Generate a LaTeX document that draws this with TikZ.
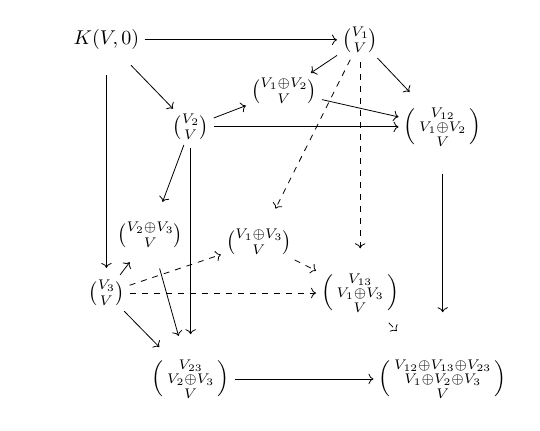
\documentclass[tikz,border=0pt]{standalone}
\usepackage{amsmath, amssymb}
\usepackage{tikz}
\usetikzlibrary{arrows.meta}

\begin{document}
\begin{tikzpicture}[
  obj/.style={inner sep=2.5pt},
  map/.style={-{To}, thin},
  dmap/.style={map, dashed}
]
  \useasboundingbox (0,0) rectangle (9.49,-7.57);

  % Outer cube
  \node[obj] (k)   at (1.87,-0.70) {$K(V,0)$};
  \node[obj] (v1)  at (6.33,-0.70) {$\binom{V_1}{V}$};
  \node[obj] (v2)  at (3.35,-2.23) {$\binom{V_2}{V}$};
  \node[obj] (v3)  at (1.87,-5.15) {$\binom{V_3}{V}$};
  \node[obj] (t12) at (7.78,-2.23)
    {$\left(\begin{smallmatrix}V_{12}\\ V_1\oplus V_2\\ V\end{smallmatrix}\right)$};
  \node[obj] (t13) at (6.33,-5.15)
    {$\left(\begin{smallmatrix}V_{13}\\ V_1\oplus V_3\\ V\end{smallmatrix}\right)$};
  \node[obj] (t23) at (3.35,-6.66)
    {$\left(\begin{smallmatrix}V_{23}\\ V_2\oplus V_3\\ V\end{smallmatrix}\right)$};
  \node[obj] (top) at (7.78,-6.66)
    {$\left(\begin{smallmatrix}V_{12}\oplus V_{13}\oplus V_{23}\\ V_1\oplus V_2\oplus V_3\\ V\end{smallmatrix}\right)$};

  % Middle objects
  \node[obj] (s12) at (4.99,-1.60) {$\binom{V_1\oplus V_2}{V}$};
  \node[obj] (s23) at (2.64,-4.13) {$\binom{V_2\oplus V_3}{V}$};
  \node[obj] (s13) at (4.55,-4.25) {$\binom{V_1\oplus V_3}{V}$};

  % From K(V,0)
  \draw[map] (k) -- (v1);
  \draw[map, shorten <=7pt] (k) -- (v2);
  \draw[map, shorten <=10pt, shorten >=3.5pt] (k) -- (v3);

  % From V_1
  \draw[map] (v1) -- (s12);
  \draw[map, shorten >=7pt] (v1) -- (t12);
  \draw[dmap, shorten <=1pt, shorten >=8.4pt] (v1) -- (s13);
  \draw[dmap, shorten <=2pt, shorten >=10pt] (v1) -- (t13);

  % From V_2
  \draw[map] (v2) -- (s12);
  \draw[map] (v2) -- (t12);
  \draw[map, shorten >=8pt] (v2) -- (s23);
  \draw[map, shorten <=1.5pt, shorten >=10pt] (v2) -- (t23);

  % From V_3
  \draw[map, shorten >=5.7pt] (v3) -- (s23);
  \draw[dmap] (v3) -- (s13);
  \draw[dmap] (v3) -- (t13);
  \draw[map, shorten >=5pt] (v3) -- (t23);

  % Into the far faces
  \draw[map] (s12) -- (t12);
  \draw[map, shorten <=8pt, shorten >=9.5pt] (s23) -- (t23);
  \draw[dmap] (s13) -- (t13);

  % Into the top
  \draw[map, shorten <=11pt, shorten >=21pt] (t12) -- (top);
  \draw[dmap, shorten <=3.5pt, shorten >=16pt] (t13) -- (top);
  \draw[map] (t23) -- (top);
\end{tikzpicture}
\end{document}
